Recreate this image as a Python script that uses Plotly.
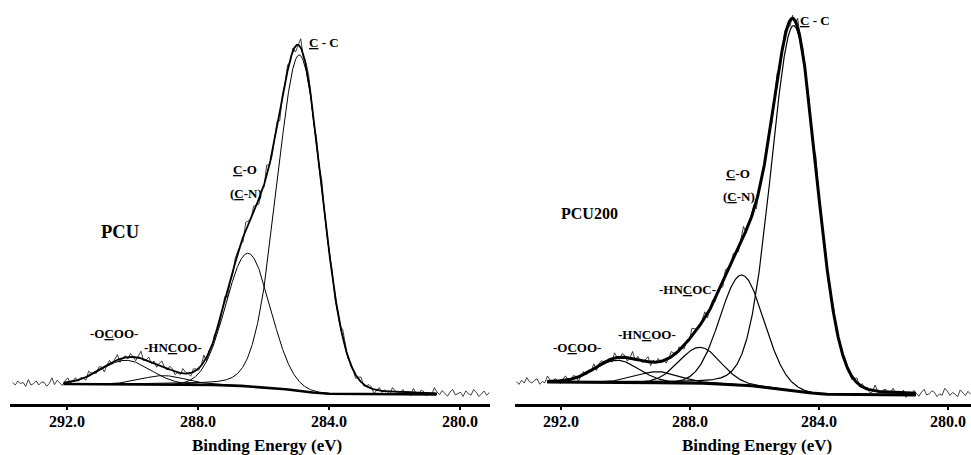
import numpy as np
import plotly.graph_objects as go

# ---------------- data ----------------
tick_vals = [292.0, 288.0, 284.0, 280.0]
tick_text = ["292.0", "288.0", "284.0", "280.0"]

# PCU (left): fitted components  (centre eV, height above background, FWHM eV, Lorentz fraction)
pcu_centers = [284.90, 286.47, 289.05, 290.20]
pcu_heights = [336, 133, 9, 24]
pcu_fwhm = [1.62, 1.60, 1.60, 1.77]
pcu_lfrac = [0.10, 0.0, 0.0, 0.0]
pcu_bg_ends = [20.0, 9.5]          # background level at high-BE / low-BE end
pcu_bg_range = [292.1, 280.7]      # span of the fitted background
pcu_raw_range = [293.7, 279.1]     # span of the measured spectrum

# PCU200 (right)
pcu200_centers = [284.78, 286.39, 287.69, 289.00, 290.26]
pcu200_heights = [365, 110, 36, 11, 22]
pcu200_fwhm = [1.65, 1.60, 1.50, 1.60, 1.60]
pcu200_lfrac = [0.10, 0.0, 0.0, 0.0, 0.0]
pcu200_bg_ends = [22.0, 9.0]
pcu200_bg_range = [292.43, 280.99]
pcu200_raw_range = [293.4, 279.3]

noise_a = [1, -1, 2, 0, -2, 1, 3, -1, 0, 2, -2, 1, 0, -1, 3, 1, -2, 0, 2, -1, 1, 4, -1, 0, -2, 1, 2, -1,
           0, 3, -2, 1, -1, 2, 0, -1, 1, 3, -2, 0, 1, -1, 2, 0, -3, 1, 2, 0, -1, 3, 1, -2, 0, 1, -1, 2,
           4, -1, 0, -2, 2, 1, -1, 0, 3, -1, 1, -2, 0, 2, 1, -1, 3, 0, -2, 1, -1, 2, 0, 1, -3, 2, 1, -1,
           0, 4, -1, 1, -2, 0, 2, -1, 1, 3, -2, 0, 1, 2, -1, 0, -2, 3, 1, -1, 0, 2, -1, 1, -2, 4, 0, -1,
           1, 2, -2, 0, 1, 3, -1, 0, -2, 1, 2, -1, 0, 3, 1, -2, 1, -1, 2, 0, -1, 4, 1, -2, 0, 2, -1, 1,
           0, -2, 3, 1, -1, 2, 0, -3, 1, 2, -1, 0, 1, 3, -2, 0, 1, -1, 2, 0, -1, 3, 1, -2, 0, 2, -1, 4,
           0, -2, 1, 1, -1, 2, 0, -1, 3, -2, 1, 0, 2, -1, 1, -2, 3, 0]
noise_b = [0, 2, -1, 1, 3, -2, 0, 1, -1, 2, 4, -1, 0, -2, 1, 2, 0, -1, 3, 1, -2, 0, 2, -1, 1, -3, 2,
           0, 1, -1, 3, 0, -2, 2, 1, -1, 0, 4, -1, -2, 1, 0, 2, -1, 3, 1, -2, 0, 1, 2, -1, 0, -2, 3,
           1, -1, 2, 0, -1, 1, 4, -2, 0, 1, -1, 2, 0, 3, -1, 1, -2, 0, 2, 1, -1, 3, 0, -2, 1, 2, -1,
           0, 1, -3, 2, 1, 0, -1, 4, 1, -2, 0, 2, -1, 1, 3, -2, 0, 1, -1, 2, 0, -2, 3, 1, -1, 0, 2,
           4, -1, 1, -2, 0, 2, -1, 1, 3, 0, -2, 1, -1, 2, 0, 1, -2, 3, 1, -1, 0, 2, -1, 4, 0, -2, 1,
           2, -1, 0, 3, -2, 1, 0, -1, 2, 1, -2, 3, 0, 1, -1, 2, 0, -3, 1, 2, -1, 0, 3, 1, -2, 0, 2,
           -1, 1, 4, -1, 0, -2, 2, 1, -1, 0, 3, -1, 1, -2]

# labels: text, energy (eV), intensity
pcu_labels = ["<u>C</u> - C", "<u>C</u>-O", "(<u>C</u>-N)", "-O<u>C</u>OO-", "-HN<u>C</u>OO-"]
pcu_label_x = [284.15, 286.56, 286.53, 290.56, 288.76]
pcu_label_y = [361, 235, 211, 71, 57]
pcu200_labels = ["<u>C</u> - C", "<u>C</u>-O", "(<u>C</u>-N)", "-HN<u>C</u>OC-", "-HN<u>C</u>OO-", "-O<u>C</u>OO-"]
pcu200_label_x = [284.12, 286.51, 286.48, 288.09, 289.33, 291.50]
pcu200_label_y = [383, 231, 208, 115, 70, 57]
sample_names = ["PCU", "PCU200"]
x_title = "Binding Energy (eV)"

# ---------------- model helpers ----------------
def peak(E, c, h, w, m):
    s = w / (2 * np.sqrt(2 * np.log(2)))
    g = np.exp(-(E - c) ** 2 / (2 * s ** 2))
    lo = 1.0 / (1.0 + ((E - c) / (w / 2)) ** 2)
    return h * ((1 - m) * g + m * lo)


def shirley(E, comps_sum, ends, rng):
    # E ascending; cumulative area from low-BE end of background range
    hi_e, lo_e = rng
    inside = (E >= lo_e) & (E <= hi_e)
    s = np.where(inside, comps_sum, 0.0)
    cum = np.concatenate([[0], np.cumsum((s[1:] + s[:-1]) / 2 * np.diff(E))])
    frac = cum / cum[-1]
    return ends[1] + (ends[0] - ends[1]) * frac


def panel(centers, heights, fwhm, lfrac, bg_ends, bg_range, raw_range, noise):
    Ef = np.arange(raw_range[1], raw_range[0] + 1e-9, 0.01)
    comps = [peak(Ef, c, h, w, m) for c, h, w, m in zip(centers, heights, fwhm, lfrac)]
    tot = np.sum(comps, axis=0)
    bg = shirley(Ef, tot, bg_ends, bg_range)
    env = bg + tot
    Er = np.arange(raw_range[1], raw_range[0] + 1e-9, 0.08)
    env_r = np.interp(Er, Ef, env)
    bg_r = np.interp(Er, Ef, bg)
    amp = 1.3 + 0.09 * np.sqrt(np.clip(env_r - bg_r, 0, None))
    nz = np.array([noise[i % len(noise)] for i in range(len(Er))])
    raw = env_r + nz * amp
    m = (Ef >= bg_range[1]) & (Ef <= bg_range[0])
    return Ef[m], [c[m] + bg[m] for c in comps], bg[m], env[m], Er, raw


fig = go.Figure()

sets = [
    (pcu_centers, pcu_heights, pcu_fwhm, pcu_lfrac, pcu_bg_ends, pcu_bg_range, pcu_raw_range, noise_a,
     "x", "y", 1.8, 1.0, 2.6),
    (pcu200_centers, pcu200_heights, pcu200_fwhm, pcu200_lfrac, pcu200_bg_ends, pcu200_bg_range,
     pcu200_raw_range, noise_b, "x2", "y2", 3.0, 1.2, 3.0),
]
for (c, h, w, m, be, br, rr, nz, xa, ya, env_w, comp_w, bg_w) in sets:
    Ef, comps, bg, env, Er, raw = panel(c, h, w, m, be, br, rr, nz)
    fig.add_trace(go.Scatter(x=Er, y=raw, mode="lines", line=dict(color="#111", width=0.8),
                             xaxis=xa, yaxis=ya, hoverinfo="skip"))
    for comp in comps:
        fig.add_trace(go.Scatter(x=Ef, y=comp, mode="lines", line=dict(color="black", width=comp_w),
                                 xaxis=xa, yaxis=ya, hoverinfo="skip"))
    fig.add_trace(go.Scatter(x=Ef, y=bg, mode="lines", line=dict(color="black", width=bg_w),
                             xaxis=xa, yaxis=ya, hoverinfo="skip"))
    fig.add_trace(go.Scatter(x=Ef, y=env, mode="lines", line=dict(color="black", width=env_w),
                             xaxis=xa, yaxis=ya, hoverinfo="skip"))

W, H = 971, 455
ydom = [(H - 404) / H, (H - 4) / H]
font_fam = "Liberation Serif"
xcommon = dict(showline=True, linecolor="black", linewidth=2.6, ticks="outside", ticklen=3,
               tickwidth=2, tickcolor="black", tickvals=tick_vals, ticktext=tick_text,
               showgrid=False, zeroline=False, automargin=False, ticklabelstandoff=-2,
               tickfont=dict(family=font_fam, size=16, color="black", weight="bold"))
ycommon = dict(domain=ydom, range=[0, 400], visible=False, showgrid=False, zeroline=False,
               automargin=False)

fig.update_layout(
    width=W, height=H, margin=dict(l=0, r=0, t=0, b=0, autoexpand=False),
    paper_bgcolor="white", plot_bgcolor="white", showlegend=False,
    xaxis=dict(domain=[10 / W, 490 / W], range=[293.74, 279.08], anchor="y", **xcommon),
    yaxis=dict(anchor="x", **ycommon),
    xaxis2=dict(domain=[515 / W, 1.0], range=[293.426, 279.286], anchor="y2", **xcommon),
    yaxis2=dict(anchor="x2", **ycommon),
)

ann = []
lab_font = dict(family=font_fam, size=13, color="black", weight="bold")
for t, x, y in zip(pcu_labels, pcu_label_x, pcu_label_y):
    ann.append(dict(text=t, x=x, y=y, xref="x", yref="y", showarrow=False, font=lab_font))
for t, x, y in zip(pcu200_labels, pcu200_label_x, pcu200_label_y):
    ann.append(dict(text=t, x=x, y=y, xref="x2", yref="y2", showarrow=False, font=lab_font))
ann.append(dict(text=sample_names[0], x=290.38, y=172, xref="x", yref="y", showarrow=False,
                font=dict(family=font_fam, size=18.5, color="black", weight="bold")))
ann.append(dict(text=sample_names[1], x=291.13, y=191, xref="x2", yref="y2", showarrow=False,
                font=dict(family=font_fam, size=16, color="black", weight="bold")))
for px in (267, 757):
    ann.append(dict(text=x_title, x=px / W, y=1 - 445 / H, xref="paper", yref="paper",
                    xanchor="center", yanchor="middle", showarrow=False,
                    font=dict(family=font_fam, size=17, color="black", weight="bold")))
fig.update_layout(annotations=ann)

fig.write_html("out.html", config={"displayModeBar": False},
               post_script="document.body.style.margin='0';document.body.style.overflow='hidden';")
